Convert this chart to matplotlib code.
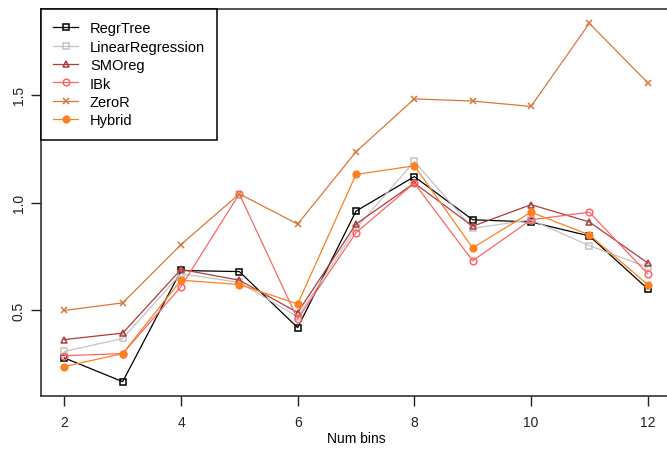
import matplotlib
matplotlib.use("Agg")
import matplotlib.pyplot as plt

num_bins = [2, 3, 4, 5, 6, 7, 8, 9, 10, 11, 12]

regr_tree = [0.28, 0.17, 0.685, 0.68, 0.42, 0.96, 1.12, 0.92, 0.91, 0.845, 0.60]
linear_regression = [0.31, 0.37, 0.67, 0.63, 0.47, 0.88, 1.19, 0.88, 0.92, 0.80, 0.70]
smoreg = [0.365, 0.395, 0.69, 0.64, 0.49, 0.90, 1.09, 0.89, 0.99, 0.91, 0.72]
ibk = [0.29, 0.30, 0.61, 1.04, 0.46, 0.86, 1.09, 0.73, 0.92, 0.955, 0.67]
zero_r = [0.50, 0.535, 0.805, 1.04, 0.90, 1.235, 1.48, 1.47, 1.445, 1.83, 1.555]
hybrid = [0.24, 0.30, 0.64, 0.62, 0.53, 1.13, 1.17, 0.79, 0.955, 0.85, 0.62]

series = [
    ("RegrTree", regr_tree, "black", "s", "none"),
    ("LinearRegression", linear_regression, "#c4c4c4", "s", "none"),
    ("SMOreg", smoreg, "#b03c3c", "^", "none"),
    ("IBk", ibk, "#ff6464", "o", "none"),
    ("ZeroR", zero_r, "#d9783a", "x", "none"),
    ("Hybrid", hybrid, "#ff8020", "o", "full"),
]

plt.rcParams["font.family"] = ["Liberation Sans", "DejaVu Sans"]
fig = plt.figure(figsize=(6.67, 4.52), dpi=100)
ax = fig.add_axes([41 / 667, 55 / 452, 630 / 667, 387 / 452])

for name, vals, color, marker, fill in series:
    face = color if fill == "full" else "none"
    ax.plot(num_bins, vals, color=color, lw=0.9, marker=marker,
            markersize=5 if marker != "o" else 4.8,
            markerfacecolor=face, markeredgecolor=color,
            markeredgewidth=1.1, label=name)

# R-style 4% padding
all_vals = regr_tree + linear_regression + smoreg + ibk + zero_r + hybrid
lo, hi = min(all_vals), max(all_vals)
pad = (hi - lo) * 0.04
ax.set_ylim(lo - pad, hi + pad)
ax.set_xlim(2 - 10 * 0.04, 12 + 10 * 0.04)

ax.set_xticks([2, 4, 6, 8, 10, 12])
ax.set_yticks([0.5, 1.0, 1.5])
ax.set_yticklabels(["0.5", "1.0", "1.5"], rotation=90, va="center")
ax.tick_params(direction="out", length=7, width=1, labelsize=10, colors="#222222")
ax.tick_params(axis="x", pad=7)
ax.tick_params(axis="y", pad=4)
for s in ax.spines.values():
    s.set_linewidth(1.1)
    s.set_color("#222222")

ax.set_xlabel("Num bins", fontsize=10, labelpad=1)

leg = ax.legend(loc="upper left", borderaxespad=0, fancybox=False,
                edgecolor="black", framealpha=1, fontsize=10.5,
                handlelength=1.7, handletextpad=0.8, numpoints=1,
                labelspacing=0.3, borderpad=0.85)
leg.get_frame().set_linewidth(1.1)

fig.savefig("out.png", dpi=100)
